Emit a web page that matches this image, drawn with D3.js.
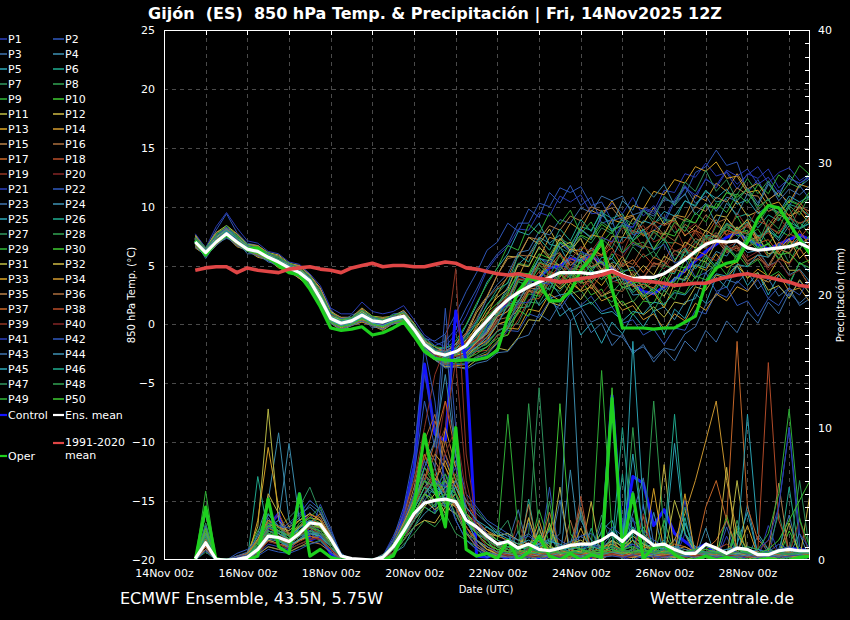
<!DOCTYPE html>
<html><head><meta charset="utf-8">
<script src="https://cdn.jsdelivr.net/npm/d3@7"></script>
<style>html,body{margin:0;padding:0;background:#000;}svg{display:block;font-family:"DejaVu Sans",sans-serif;}</style>
</head><body><svg id="c" width="850" height="620"></svg>
<script>
// ---------- DATA (6-hourly from 14Nov2025 18z to 29Nov2025 12z) ----------
const titleText = "Gijón  (ES)  850 hPa Temp. & Precipitación | Fri, 14Nov2025 12Z";
const firstTime = Date.UTC(2025,10,14,18);
const stepHours = 6;
const tempTicks = [-20,-15,-10,-5,0,5,10,15,20,25];
const precipTicks = [0,10,20,30,40];
const xTickLabels = ["14Nov 00z","16Nov 00z","18Nov 00z","20Nov 00z","22Nov 00z","24Nov 00z","26Nov 00z","28Nov 00z"];

const ensMeanT = [7.0,6.1,7.0,7.7,7.0,6.4,6.2,5.7,5.3,4.8, 4.4,3.7,2.2,0.5,0.1,0.3,0.8,0.3,0.2,0.5, 0.7,-0.4,-1.7,-2.4,-2.6,-2.3,-1.8,-0.6,0.3,1.3, 2.1,2.7,3.2,3.6,4.0,4.4,4.4,4.4,4.3,4.5, 4.6,4.2,3.9,4.0,4.0,4.3,4.9,5.5,6.2,6.8, 7.1,7.0,7.1,6.5,6.3,6.4,6.5,6.6,6.9,6.5];
const ensMeanP = [0.1,1.3,0.05,0,0.05,0.2,0.8,1.8,1.7,1.4, 2.0,2.8,2.7,1.6,0.3,0.1,0.05,0,0.2,1.0, 2.2,3.5,4.3,4.5,4.6,4.4,3.0,2.5,1.8,1.2, 1.4,0.9,1.2,0.8,0.7,0.9,1.1,1.2,1.2,1.5, 2.0,1.4,2.2,1.7,1.1,1.2,0.8,0.5,0.5,1.2, 0.9,0.5,0.9,0.8,0.4,0.4,0.7,0.8,0.7,0.7];
const operT = [7.1,5.9,7.0,7.6,7.0,6.4,6.5,5.7,5.0,4.4, 4.2,3.0,1.5,-0.3,-0.5,-0.4,-0.2,-0.9,-0.7,-0.3, 0.2,-1.0,-2.3,-2.9,-3.0,-3.1,-3.0,-3.0,-2.8,-2.2, 0.6,2.8,4.0,3.6,2.0,2.0,2.8,4.6,5.6,7.1, 3.0,-0.3,-0.3,-0.3,-0.4,-0.3,-0.3,0.2,0.7,3.5, 4.8,5.2,5.4,7.0,9.0,10.1,9.9,8.6,7.2,6.0];
const operP = [0,4.0,0,0,0,0,0.3,4.6,1.0,0.5, 5.0,0.3,0.8,0.2,0,0,0,0,0,0.3, 2.0,4.0,9.5,5.5,2.5,10.0,0.8,0.3,0.5,0.1, 1.5,0,0.6,1.8,0.3,0,0.5,0,0.4,0.2, 12.2,0.8,5.0,0.1,1.0,1.2,0.4,0,0,0.3, 0,0.2,0,0,0,0.1,0,0,0.2,0.3];
const controlT = [7.1,6.0,7.2,7.8,7.1,6.5,6.3,5.7,5.3,4.9, 4.3,3.7,2.2,0.4,0.1,0.3,0.8,0.2,0.1,0.5, 0.6,-0.5,-1.8,-2.5,-2.8,-2.6,-2.2,-1.5,-0.5,0.8, 2.0,2.8,3.6,4.0,4.8,5.0,5.6,5.4,5.8,5.2, 4.8,4.0,3.4,2.8,2.6,3.2,3.8,4.6,5.4,6.2, 6.8,7.4,7.8,7.2,6.8,6.4,6.8,7.2,7.6,7.2];
const controlP = [0,1.5,0,0,0,0,0.3,2.5,3.5,0.5, 5.0,1.5,1.8,0.5,0,0,0,0,0,1.0, 3.5,7.0,14.8,9.5,9.0,18.8,15.0,0.3,0.2,0.5, 0,0.2,0.4,0.1,0.3,0.5,0.2,0.3,0.1,0.5, 12.4,1.5,6.3,5.8,2.6,3.8,2.0,1.4,0.8,1.2, 0.5,0.3,0.2,0.3,0.2,0.5,0.6,0.9,0.8,0.7];
const climT = [4.6,4.8,4.9,4.9,4.4,4.8,4.6,4.5,4.4,4.7, 4.8,4.9,4.7,4.6,4.4,4.8,5.0,5.2,4.9,5.0, 5.0,4.9,4.9,5.1,5.3,5.2,4.8,4.7,4.5,4.3, 4.2,4.3,4.1,3.9,3.8,3.6,3.7,3.9,4.0,4.2, 4.5,4.1,3.8,3.7,3.6,3.5,3.3,3.4,3.5,3.5, 3.8,4.0,4.2,4.3,4.1,4.0,3.8,3.6,3.3,3.2];

const t1=[6.8,5.9,7.6,8.3,7.1,6.7,5.9,6.0,5.0,4.7, 4.1,3.0,1.4,0.3,-0.5,0.2,0.5,0.0,-0.3,0.6, 0.4,-0.9,-2.3,-3.0,-3.4,-2.9,-2.9,-1.7,-0.2,1.5, 2.9,4.1,3.8,5.6,5.2,6.9,6.3,8.0,7.4,9.1, 10.3,9.4,10.8,9.2,10.1,8.9,10.6,11.8,10.7,12.4, 11.6,13.0,11.9,12.7,13.4,12.0,12.9,13.3,12.2,12.8];
const t2=[7.3,6.4,8.0,9.4,7.8,6.9,6.7,6.0,5.8,5.0, 5.0,4.2,3.0,1.3,0.2,0.8,1.1,0.4,0.3,0.9, 1.0,0.1,-1.2,-1.4,-0.8,0.9,2.8,4.4,6.3,7.0, 8.6,7.9,9.8,9.1,11.2,10.3,11.8,10.1,10.8,8.6, 8.9,6.0,6.9,6.4,8.0,8.6,10.4,11.0,12.9,13.4, 14.8,13.5,13.8,11.2,12.3,10.5,11.4,10.0,11.8,10.6];
const t3=[7.0,5.6,6.9,7.3,7.1,6.0,6.0,5.3,5.1,4.4, 4.3,3.4,2.1,0.2,0.1,0.0,0.6,-0.3,-0.1,0.0, 0.5,-0.8,-1.8,-3.0,-2.9,-3.2,-2.4,-2.0,-0.6,0.3, 1.2,2.4,2.8,3.1,2.2,2.5,1.1,1.5,0.2,0.6, -0.8,-1.1,-2.3,-1.9,-2.9,-2.0,-2.2,-0.8,-0.2,1.7, 2.4,3.8,3.5,4.5,3.0,3.9,2.4,3.1,1.6,2.2];
const t4=[7.4,6.3,7.3,8.1,7.2,6.8,6.2,5.9,5.4,5.2, 4.5,4.0,2.7,0.6,0.5,0.4,1.2,0.4,0.5,0.5, 1.1,-0.3,-1.3,-2.4,-2.4,-2.6,-1.8,-1.4,0.2,1.6, 3.2,5.1,5.9,7.4,6.9,7.6,6.2,6.4,4.8,5.3, 3.6,3.9,2.5,2.6,1.1,1.5,0.4,1.9,2.2,4.4, 5.1,7.0,7.2,8.5,7.3,8.1,7.1,8.4,8.1,8.6];
const t5=[6.8,6.3,7.0,8.0,7.0,6.6,6.2,5.8,5.3,5.0, 4.4,3.9,2.2,0.7,0.1,0.5,0.8,0.5,0.1,0.6, 0.6,-0.6,-1.6,-2.6,-2.6,-2.5,-1.7,-0.8,0.6,0.9, 2.3,1.4,3.1,1.6,2.6,0.7,1.4,-0.9,0.1,-1.6, 0.2,-0.8,0.9,-0.2,1.2,-0.9,1.3,0.5,2.6,1.8, 4.0,3.1,5.0,3.3,4.4,2.5,4.2,3.3,5.3,4.4];
const t6=[7.2,5.9,7.1,7.5,7.1,6.4,6.2,5.5,5.3,4.6, 4.4,3.4,2.3,0.3,0.1,0.1,0.8,0.1,0.1,0.2, 0.7,-0.6,-1.8,-2.8,-2.8,-2.9,-2.0,-1.6,-0.1,0.8, 2.2,4.1,4.2,5.6,5.4,7.0,6.6,8.3,8.0,9.5, 9.0,9.4,7.8,8.0,7.2,8.9,8.8,10.5,10.1,11.4, 10.4,10.6,9.1,9.4,8.2,9.3,8.8,10.2,9.9,9.2];
const t7=[6.6,6.0,6.8,7.6,6.7,6.4,5.9,5.6,5.0,4.8, 4.2,3.5,1.6,0.3,-0.3,0.1,0.3,0.1,-0.3,0.3, 0.3,-0.6,-2.2,-2.8,-3.4,-3.3,-3.3,-2.7,-2.3,-1.4, -0.2,0.1,1.9,1.8,3.3,2.8,4.0,3.5,4.6,3.8, 5.3,5.0,6.6,5.7,6.2,5.0,6.3,5.8,7.0,6.5, 7.8,6.9,8.2,6.5,7.6,5.8,6.9,5.2,7.0,6.2];
const t8=[7.5,6.4,7.7,8.1,7.6,6.6,6.6,5.8,5.7,5.0, 4.9,3.9,2.8,0.7,0.4,0.4,1.2,0.3,0.4,0.5, 0.9,-0.3,-1.3,-2.2,-2.3,-2.1,-1.0,0.0,1.7,2.6, 3.6,5.2,5.0,6.5,5.9,7.3,6.8,8.1,7.4,8.7, 8.1,8.4,6.7,7.0,5.6,7.0,6.9,8.8,8.6,10.1, 9.8,11.2,11.0,12.4,11.1,12.2,10.8,12.0,11.6,12.9];
const t9=[6.9,6.2,7.0,7.9,7.0,6.5,6.1,5.9,5.2,5.0, 4.3,3.8,2.2,0.6,0.0,0.3,0.7,0.4,0.0,0.5, 0.5,-0.5,-2.1,-2.6,-3.1,-2.7,-2.6,-1.7,-1.1,0.2, 1.6,1.7,3.0,2.6,4.0,3.4,4.7,3.6,5.3,4.5, 6.0,4.6,4.6,3.1,4.0,3.4,5.0,4.8,6.5,6.6, 8.4,7.9,9.2,7.6,8.1,6.8,8.0,7.5,8.7,7.6];
const t10=[7.3,6.2,7.4,7.8,7.3,6.4,6.5,5.7,5.5,4.9, 4.6,3.7,2.5,0.5,0.3,0.3,1.0,0.3,0.3,0.4, 0.9,-0.4,-1.5,-2.4,-2.5,-2.5,-1.6,-0.7,1.0,1.8, 2.8,4.4,4.1,5.6,4.2,4.5,3.0,3.8,2.5,3.0, 1.5,2.0,0.8,2.0,1.8,3.5,3.6,5.5,5.6,7.3, 7.0,8.5,7.7,8.0,6.5,6.8,5.5,7.0,6.4,7.6];
const t11=[6.7,6.1,7.1,8.2,7.2,6.7,6.1,5.7,5.1,4.7, 4.0,3.4,1.8,0.4,-0.1,0.3,0.5,0.2,-0.2,0.4, 0.4,-0.5,-2.0,-2.5,-3.0,-2.6,-2.4,-1.5,-0.6,1.0, 2.5,2.6,4.3,4.0,5.6,5.0,6.4,5.7,6.0,4.6, 5.0,3.4,3.7,2.4,3.1,2.4,4.0,3.8,5.6,5.3, 7.0,6.8,8.3,7.0,7.5,6.0,6.2,4.6,4.6,3.2];
const t12=[7.6,6.5,7.8,8.4,7.7,6.8,6.7,6.1,5.9,5.2, 5.0,4.2,3.1,1.1,0.6,0.6,1.4,0.7,0.6,0.7, 1.2,0.1,-1.4,-1.9,-2.3,-1.7,-0.9,1.0,2.3,4.2, 5.8,5.7,7.4,6.8,8.1,6.5,7.0,5.6,6.3,5.9, 7.5,7.4,9.0,8.6,9.9,8.5,9.0,7.5,8.4,7.9, 9.3,9.1,10.5,9.2,9.6,8.1,9.3,8.9,10.1,8.8];
const t13=[6.5,5.9,6.7,7.5,6.6,6.3,5.7,5.5,4.8,4.5, 3.9,3.2,1.5,0.1,-0.5,-0.1,0.2,-0.1,-0.5,0.1, 0.1,-0.8,-2.4,-3.0,-3.6,-3.5,-3.4,-2.8,-2.5,-1.5, -0.3,-0.4,1.3,1.1,2.6,2.0,3.5,2.9,4.1,3.3, 4.5,3.1,3.4,2.1,2.7,1.4,3.5,3.3,5.0,4.6, 6.0,4.8,5.3,3.9,4.7,4.1,5.6,5.2,6.5,5.1];
const t14=[7.0,6.3,7.1,8.1,7.1,6.6,6.2,5.9,5.3,5.0, 4.4,4.0,2.4,0.8,0.1,0.5,0.9,0.6,0.1,0.6, 0.7,-0.2,-1.7,-2.2,-2.6,-2.0,-1.6,-0.1,0.8,2.6, 4.1,4.0,5.9,5.6,7.4,7.1,8.6,8.0,9.7,9.2, 10.5,9.0,9.3,7.5,8.0,7.6,9.3,9.1,11.0,10.5, 12.0,11.3,12.8,11.5,12.0,10.6,11.2,10.3,11.9,11.6];
const t15=[6.8,6.2,6.8,7.7,6.8,6.4,6.0,5.7,5.1,4.9, 4.2,3.7,2.0,0.5,-0.1,0.3,0.6,0.3,-0.1,0.4, 0.4,-0.5,-2.1,-2.7,-3.2,-2.9,-2.7,-1.9,-1.3,0.0, 0.3,1.6,3.1,3.0,4.5,4.0,5.3,4.8,6.0,4.7, 5.2,3.8,4.3,3.0,3.7,3.1,4.7,4.4,6.3,5.9, 7.2,6.1,6.5,5.1,5.6,5.0,6.5,6.0,7.3,5.8];
const t16=[7.4,6.3,7.5,8.1,7.5,6.7,6.6,5.9,5.7,5.0, 4.8,3.9,2.8,0.8,0.5,0.5,1.2,0.4,0.4,0.6, 1.0,-0.2,-1.3,-2.2,-2.2,-1.9,-0.8,0.5,2.2,3.1, 4.0,5.9,5.8,7.1,5.7,6.1,4.6,5.0,3.7,4.5, 3.9,5.5,5.1,6.7,6.4,7.7,7.1,8.5,7.9,9.3, 8.6,9.0,7.8,8.4,7.0,8.3,7.7,9.1,8.6,8.9];
const t17=[6.7,6.0,6.9,7.8,6.9,6.4,5.9,5.7,5.1,4.8, 4.1,3.6,1.9,0.4,-0.2,0.2,0.5,0.2,-0.2,0.3, 0.3,-0.6,-2.1,-2.7,-3.3,-2.9,-2.8,-2.1,-1.6,-0.5, -0.2,0.9,2.8,2.6,4.5,4.1,5.6,5.2,6.5,5.9, 6.5,4.9,5.5,4.4,5.7,5.3,7.0,6.6,8.0,7.5, 8.9,7.6,8.0,6.6,7.0,5.7,7.0,6.5,8.0,6.6];
const t18=[7.1,6.1,7.1,7.7,7.1,6.3,6.3,5.6,5.4,4.7, 4.5,3.6,2.3,0.4,0.2,0.2,0.9,0.2,0.2,0.3, 0.8,-0.5,-1.6,-2.5,-2.5,-2.3,-1.5,-0.9,0.4,1.1, 1.9,3.0,3.3,4.5,3.9,5.1,3.8,4.2,3.0,4.3, 3.8,5.2,4.8,6.0,5.0,5.4,4.4,6.4,6.1,7.5, 7.1,8.5,8.1,8.9,7.3,7.8,6.5,7.7,7.3,8.4];
const t19=[7.3,6.2,7.3,7.8,7.3,6.4,6.4,5.7,5.5,4.9, 4.6,3.7,2.5,0.5,0.3,0.3,1.0,0.3,0.3,0.4, 0.9,-0.4,-1.5,-2.5,-2.6,-2.6,-1.8,-1.2,0.2,0.8, 2.7,1.9,3.8,2.7,4.6,3.5,5.4,4.3,6.1,5.1, 7.0,6.0,8.0,6.5,8.5,7.2,8.4,6.5,7.8,6.6, 8.6,7.5,9.5,8.2,9.9,8.0,9.1,8.0,9.9,8.9];
const t20=[6.8,6.1,6.8,7.7,6.8,6.4,5.9,5.6,5.0,4.7, 4.1,3.6,1.8,0.4,-0.2,0.2,0.5,0.2,-0.2,0.4, 0.4,-0.5,-2.0,-2.6,-3.1,-2.7,-2.6,-1.6,-1.0,0.5, 1.8,1.9,3.5,3.2,4.4,3.8,4.3,3.2,3.6,2.6, 3.7,3.4,4.5,4.0,5.3,4.7,6.0,5.5,6.9,6.4, 7.4,6.2,6.6,5.3,5.9,4.6,5.6,5.1,6.4,5.2];
const t21=[7.7,6.5,8.3,9.5,8.2,7.1,6.9,6.2,6.0,5.3, 5.1,4.3,3.3,1.4,0.9,0.9,1.9,1.1,0.9,1.1, 1.6,0.4,-0.9,-1.5,-1.9,-0.8,0.7,2.6,4.6,5.8, 6.6,8.1,8.0,9.5,9.2,10.9,10.4,11.0,9.4,9.5, 8.0,8.4,8.3,9.9,9.6,11.4,11.2,12.8,12.5,13.7, 12.6,12.9,11.5,12.8,12.4,13.2,11.6,12.4,12.0,12.6];
const t22=[6.6,5.9,6.7,7.5,6.7,6.3,5.8,5.5,4.9,4.6, 4.0,3.4,1.7,0.2,-0.4,0.0,0.3,0.0,-0.4,0.2, 0.2,-0.7,-2.3,-2.9,-3.5,-3.4,-3.4,-2.8,-2.6,-1.6, -0.5,-0.6,0.9,0.6,2.0,1.3,2.6,1.6,2.4,1.1, 1.5,0.1,0.4,-0.9,-0.4,-1.7,-0.3,-0.5,1.2,0.9, 2.7,2.3,3.7,2.9,3.8,2.2,3.2,2.4,3.7,2.6];
const t23=[7.2,6.2,7.5,8.0,7.3,6.4,6.4,5.7,5.5,4.9, 4.6,3.8,2.7,0.7,0.4,0.4,1.1,0.4,0.4,0.5, 1.0,-0.3,-1.4,-2.3,-2.3,-2.1,-0.9,0.3,2.2,3.4, 4.3,6.1,6.3,7.9,7.6,8.9,8.6,9.9,9.5,10.9, 10.5,10.9,9.3,9.6,9.2,10.6,10.4,11.7,10.3,10.9, 9.6,10.8,10.5,11.6,10.3,12.1,10.5,11.5,11.0,11.8];
const t24=[6.8,6.2,6.9,7.8,6.9,6.5,6.0,5.7,5.1,4.9, 4.2,3.7,2.0,0.5,-0.1,0.3,0.6,0.3,-0.1,0.5, 0.5,-0.6,-2.0,-2.6,-3.0,-2.6,-2.5,-1.5,-0.7,0.8, 2.2,2.4,4.1,3.8,5.0,4.6,5.9,5.4,6.5,5.2, 5.6,4.4,4.9,3.6,4.0,2.8,4.0,3.7,5.1,4.8, 6.2,5.8,7.1,6.1,6.3,5.0,5.4,4.2,4.7,3.6];
const t25=[7.3,6.1,7.3,8.2,7.4,6.5,6.4,5.8,5.5,4.9, 4.7,3.8,2.5,0.6,0.4,0.4,1.0,0.3,0.3,0.4, 0.9,-0.3,-1.3,-2.1,-2.0,-1.7,-0.1,1.6,3.6,4.8, 6.0,7.9,7.6,8.6,6.8,6.6,5.0,5.6,4.4,5.7, 5.6,7.4,7.3,8.8,8.5,9.6,9.2,10.5,10.0,11.3, 10.7,11.5,10.2,10.6,9.4,10.1,9.5,10.9,10.4,10.9];
const t26=[6.7,6.0,6.8,7.7,6.8,6.4,5.9,5.6,5.0,4.8, 4.1,3.5,1.8,0.3,-0.3,0.1,0.4,0.1,-0.3,0.3, 0.3,-0.6,-2.2,-2.8,-3.3,-3.0,-2.9,-2.3,-1.9,-0.9, -0.4,1.4,1.5,3.3,3.0,4.4,4.0,5.5,4.9,5.4, 3.9,4.2,2.7,3.5,2.9,4.5,4.3,6.2,5.9,7.6, 7.4,8.6,8.1,8.7,7.5,7.9,7.4,8.7,8.2,8.6];
const t27=[7.1,6.0,7.2,7.7,7.2,6.3,6.3,5.6,5.4,4.7, 4.5,3.6,2.3,0.4,0.2,0.2,0.9,0.2,0.2,0.3, 0.8,-0.5,-1.6,-2.6,-2.7,-2.7,-1.9,-1.4,0.0,0.9, 1.7,3.6,3.4,5.3,5.0,6.5,6.0,7.5,6.9,8.2, 7.7,9.1,8.5,9.8,8.6,9.1,7.8,8.3,7.0,7.5, 7.1,8.3,7.8,9.0,8.5,9.9,9.4,10.6,10.2,10.7];
const t28=[7.4,6.3,7.5,8.0,7.4,6.6,6.5,5.8,5.6,5.0, 4.7,3.9,2.7,0.7,0.4,0.4,1.1,0.4,0.4,0.5, 0.9,-0.4,-1.5,-2.4,-2.5,-2.5,-1.7,-1.1,0.4,1.3, 2.1,3.8,3.6,4.8,3.5,3.9,2.6,2.9,1.7,2.5, 1.9,3.2,2.9,4.0,3.7,5.0,4.7,6.3,5.9,7.4, 7.1,8.5,7.5,7.8,6.4,6.9,5.6,6.8,6.4,7.6];
const t29=[6.8,6.1,6.9,7.6,6.9,6.4,5.9,5.7,5.1,4.8, 4.2,3.6,1.9,0.4,-0.2,0.2,0.5,0.2,-0.2,0.3, 0.4,-0.6,-2.0,-2.6,-3.1,-2.9,-2.8,-2.0,-1.7,-0.6, -0.1,1.0,2.6,2.4,3.7,3.1,4.3,3.5,4.7,3.8, 4.5,3.1,3.5,2.3,2.9,1.6,2.9,2.6,4.1,3.8, 5.3,4.2,6.0,4.9,5.5,4.0,4.5,3.5,5.2,4.8];
const t30=[7.2,6.2,7.3,7.8,7.3,6.4,6.4,5.7,5.5,4.8, 4.6,3.7,2.4,0.5,0.3,0.3,1.0,0.3,0.3,0.4, 0.8,-0.5,-1.6,-2.4,-2.6,-2.3,-1.6,-0.9,0.6,1.6, 2.6,4.4,4.3,6.0,5.6,7.0,6.5,7.6,7.2,8.5, 7.9,8.5,7.1,7.8,6.4,7.8,7.5,9.0,8.6,10.2, 9.9,11.2,10.8,11.5,10.0,10.6,9.2,10.5,10.1,11.3];
const t31=[6.6,5.8,6.7,7.6,6.7,6.3,5.8,5.5,4.9,4.6, 3.9,3.3,1.6,0.2,-0.4,0.0,0.3,0.0,-0.4,0.2, 0.1,-0.8,-2.3,-3.0,-3.6,-3.6,-3.7,-3.0,-2.9,-2.0, -2.2,-1.1,0.4,0.3,1.9,1.6,3.0,2.1,3.4,2.4, 2.8,1.6,2.0,0.8,1.5,0.6,1.9,1.7,3.2,2.9, 4.2,3.9,5.0,4.0,4.4,2.9,3.3,2.2,3.8,2.6];
const t32=[7.3,6.3,7.4,8.0,7.3,6.7,6.4,6.0,5.4,5.1, 4.7,3.9,2.6,0.7,0.4,0.4,1.1,0.5,0.4,0.5, 1.0,-0.3,-1.4,-2.3,-2.4,-2.3,-1.3,-0.3,1.3,2.3, 3.0,5.1,4.9,6.6,5.6,7.3,6.3,7.3,5.5,6.7, 4.6,5.8,4.0,5.0,4.2,5.8,5.3,7.0,6.5,8.0, 7.4,9.0,8.0,8.9,7.1,8.1,6.3,7.3,5.6,6.5];
const t33=[7.0,6.1,7.1,7.8,7.0,6.5,6.1,5.8,5.3,4.9, 4.3,3.8,2.1,0.6,0.0,0.4,0.7,0.4,0.0,0.5, 0.5,-0.5,-1.9,-2.5,-3.0,-2.6,-2.5,-1.5,-0.8,0.7, 1.1,2.6,3.8,4.0,5.2,5.0,6.4,6.2,7.6,7.4, 8.9,8.6,10.1,9.8,11.3,11.0,12.3,12.0,13.4,13.0, 13.8,12.4,12.6,11.2,11.4,10.1,10.4,9.2,9.6,8.5];
const t34=[6.7,6.0,6.8,7.7,6.8,6.4,5.9,5.6,5.0,4.7, 4.1,3.5,1.8,0.3,-0.3,0.1,0.4,0.1,-0.3,0.3, 0.3,-0.6,-2.1,-2.7,-3.2,-2.9,-2.7,-1.9,-1.4,0.0, 0.3,1.3,2.9,2.7,4.0,3.0,3.9,2.8,3.2,2.0, 2.4,1.2,1.6,0.4,0.9,-0.4,0.9,0.3,1.8,1.2, 2.6,2.0,3.2,2.8,4.0,3.6,4.3,2.8,3.1,1.9];
const t35=[7.5,6.4,7.8,8.2,7.7,6.7,6.7,6.0,5.8,5.1, 5.0,4.1,3.0,1.0,0.6,0.6,1.3,0.6,0.5,0.7, 1.1,0.0,-1.4,-1.9,-2.4,-1.6,-0.7,1.2,2.4,4.2, 5.6,5.8,7.4,7.2,8.4,8.0,9.2,8.8,10.0,9.6, 9.9,8.8,9.2,8.0,8.6,7.6,9.2,8.8,10.0,9.6, 10.8,10.4,11.6,11.0,10.9,9.6,10.0,8.9,10.0,9.6];
const t36=[6.8,6.1,6.9,7.8,6.9,6.4,5.9,5.7,5.1,4.9, 4.2,3.7,2.0,0.5,-0.1,0.3,0.6,0.3,-0.1,0.4, 0.5,-0.5,-2.0,-2.6,-3.0,-2.7,-2.5,-1.7,-1.1,0.4, 0.6,1.9,3.4,3.2,4.4,3.4,4.5,3.5,3.7,2.4, 3.0,2.8,4.0,3.9,5.2,5.0,6.3,6.1,7.3,6.9, 7.6,6.3,6.7,5.4,5.9,4.8,6.4,6.1,7.4,6.3];
const t37=[7.2,6.1,7.2,7.7,7.2,6.4,6.3,5.7,5.4,4.8, 4.5,3.6,2.4,0.4,0.2,0.2,0.9,0.2,0.2,0.3, 0.8,-0.5,-1.6,-2.6,-2.6,-2.6,-1.8,-1.3,0.2,1.1, 2.0,3.8,3.9,5.2,4.9,6.0,5.0,5.9,4.9,5.3, 4.0,4.3,3.2,3.4,3.1,4.4,4.5,5.8,5.6,7.0, 6.9,8.0,7.7,8.6,6.9,7.2,6.0,7.1,6.9,7.3];
const t38=[6.7,6.0,6.7,7.6,6.7,6.3,5.8,5.6,4.9,4.7, 4.0,3.5,1.7,0.3,-0.4,0.1,0.3,0.1,-0.4,0.2, 0.2,-0.7,-2.2,-2.8,-3.4,-3.1,-3.1,-2.3,-2.2,-0.9, -0.9,0.4,2.1,2.2,3.6,3.5,4.8,4.6,6.0,5.8, 7.1,6.9,8.0,7.6,8.8,8.4,8.8,7.6,8.0,6.9, 7.2,6.8,8.0,7.7,8.8,8.4,9.6,9.3,10.4,9.2];
const t39=[7.3,6.2,7.3,7.8,7.3,6.5,6.4,5.8,5.5,4.9, 4.6,3.7,2.5,0.5,0.3,0.3,1.0,0.3,0.3,0.4, 0.9,-0.4,-1.5,-2.4,-2.4,-2.3,-1.4,-0.7,0.8,1.6, 2.4,3.9,3.7,5.0,4.7,5.8,5.5,6.6,6.2,7.4, 7.0,8.2,7.9,8.4,7.0,7.4,6.2,6.6,5.4,5.9, 5.4,6.7,6.2,7.5,7.0,8.3,7.8,9.0,8.6,9.0];
const t40=[6.9,6.1,7.0,7.8,7.0,6.4,6.1,5.8,5.2,4.9, 4.3,3.7,2.1,0.5,0.0,0.3,0.7,0.3,0.0,0.4, 0.6,-0.5,-1.9,-2.6,-3.0,-2.7,-2.5,-1.7,-1.1,0.2, 1.5,1.5,3.0,2.5,3.8,3.2,4.6,4.1,5.4,4.4, 6.2,5.7,7.0,6.5,7.8,7.2,8.6,7.9,8.6,7.2, 7.8,6.5,7.0,5.7,6.2,4.9,5.4,4.1,4.6,3.3];
const t41=[7.0,6.0,7.3,8.0,7.2,6.5,6.2,5.8,5.3,4.8, 4.4,3.7,2.2,0.5,0.0,0.3,0.7,0.2,0.0,0.3, 0.6,-0.6,-1.9,-2.7,-3.1,-3.0,-2.7,-2.2,-1.4,-0.6, -0.1,1.8,1.9,3.6,3.4,5.1,4.6,6.2,5.8,7.4, 7.0,8.6,8.2,9.8,9.4,10.8,10.2,11.6,11.0,12.3, 11.8,13.1,12.6,13.2,11.9,12.5,11.2,12.4,12.0,12.5];
const t42=[7.3,6.4,7.5,8.2,7.5,6.7,6.5,6.0,5.7,5.1, 4.8,4.0,2.8,0.9,0.5,0.6,1.2,0.6,0.4,0.7, 1.1,0.0,-1.1,-1.8,-1.4,-0.4,1.4,3.0,4.8,6.0, 6.8,8.6,8.6,10.3,10.0,11.6,11.2,11.7,10.1,10.4, 8.8,9.1,7.6,7.9,6.3,6.8,5.2,5.6,4.0,4.4, 2.8,3.2,1.6,2.0,0.7,2.2,1.6,3.1,2.5,3.9];
const t43=[6.6,5.8,6.7,7.4,6.7,6.2,5.8,5.4,4.9,4.5, 4.0,3.3,1.7,0.1,-0.4,-0.1,0.3,-0.1,-0.4,0.1, 0.2,-0.8,-2.3,-3.0,-3.7,-3.6,-3.8,-3.3,-3.1,-2.4, -2.3,-1.2,-0.9,0.9,0.3,1.8,0.3,1.1,-0.7,0.1, -1.8,-0.8,-2.5,-1.7,-3.2,-2.1,-3.1,-1.4,-2.3,-0.5, -1.5,0.3,-0.7,1.1,0.1,1.9,0.9,2.7,1.8,2.6];
const t44=[7.1,6.2,7.1,7.9,7.1,6.5,6.2,5.8,5.4,4.9, 4.5,3.8,2.3,0.6,0.2,0.4,0.9,0.4,0.2,0.5, 0.7,-0.4,-1.7,-2.4,-2.7,-2.4,-1.9,-1.0,0.2,1.4, 2.0,4.2,3.7,5.7,4.9,6.9,6.1,8.1,7.3,9.3, 8.5,10.5,9.7,11.7,10.8,11.9,10.1,11.1,9.3,10.3, 8.5,10.3,9.3,11.1,10.1,11.9,10.9,12.7,11.7,12.4];
const t45=[6.9,6.0,6.9,7.6,6.9,6.3,6.1,5.6,5.2,4.7, 4.3,3.5,2.0,0.3,-0.1,0.1,0.6,0.1,-0.1,0.3, 0.5,-0.6,-2.0,-2.8,-3.1,-2.9,-2.5,-1.9,-1.1,0.0, 1.7,1.9,3.5,3.3,3.7,2.5,2.7,1.5,1.9,0.9, 1.1,0.3,1.1,0.9,1.9,1.7,2.7,2.5,3.5,3.3, 4.3,4.1,5.1,4.9,5.9,5.7,6.7,6.5,7.5,6.3];
const t46=[7.2,6.3,7.3,8.0,7.3,6.6,6.3,5.9,5.5,5.0, 4.6,3.9,2.5,0.7,0.3,0.5,1.0,0.5,0.3,0.6, 0.8,-0.2,-1.5,-2.2,-2.4,-2.0,-1.2,0.2,1.6,3.0, 3.5,5.9,5.3,7.3,6.3,8.1,7.1,8.9,7.9,9.7, 7.9,8.9,7.1,8.1,6.3,7.3,5.5,6.5,4.7,5.9, 4.9,6.7,5.7,7.5,6.5,8.3,7.3,9.1,8.1,9.5];
const t47=[6.8,5.9,6.9,7.6,6.9,6.3,6.0,5.5,5.1,4.7, 4.2,3.4,1.9,0.2,-0.2,0.0,0.5,0.0,-0.2,0.2, 0.4,-0.7,-2.1,-2.9,-3.2,-3.0,-2.7,-2.2,-1.5,-0.6, -0.1,2.1,1.5,3.7,2.9,4.9,4.1,6.1,5.3,7.3, 6.5,8.5,7.7,9.7,8.9,10.9,10.1,12.1,11.3,13.1, 11.3,12.3,10.5,11.5,9.7,10.7,8.9,9.9,8.1,8.9];
const t48=[7.0,6.1,7.1,7.8,7.1,6.4,6.2,5.7,5.3,4.8, 4.4,3.7,2.2,0.5,0.1,0.3,0.8,0.3,0.1,0.4, 0.7,-0.4,-1.7,-2.5,-2.8,-2.6,-2.1,-1.4,-0.4,0.8, 1.5,3.7,3.1,5.1,4.1,5.9,4.3,5.3,3.5,4.5, 2.7,3.7,1.9,2.9,1.1,2.9,2.1,4.1,3.3,5.3, 4.5,6.5,5.7,7.7,6.9,8.9,8.1,10.1,9.3,11.1];
const t49=[7.4,6.5,7.6,8.4,7.5,6.8,6.5,6.1,5.7,5.2, 4.8,4.1,2.8,1.0,0.4,0.6,1.2,0.7,0.4,0.8, 1.0,0.0,-1.2,-1.9,-2.0,-1.4,0.0,1.8,3.4,4.8, 6.7,6.3,8.5,7.7,9.5,8.5,9.7,7.7,8.7,6.9, 7.9,6.1,7.1,6.5,7.9,7.1,8.7,7.9,9.5,8.7, 10.3,9.5,11.1,10.3,11.9,11.1,12.7,11.9,13.5,12.7];
const t50=[6.8,5.9,6.9,7.6,6.9,6.2,6.0,5.5,5.1,4.6, 4.2,3.4,1.9,0.2,-0.2,0.0,0.5,0.0,-0.2,0.2, 0.4,-0.7,-2.0,-2.8,-3.2,-3.1,-2.9,-2.5,-1.9,-1.2, -0.9,1.2,0.7,2.9,2.3,4.3,3.5,5.5,4.7,5.3, 4.3,4.5,3.5,3.7,2.7,4.1,3.1,4.9,3.9,5.7, 4.7,6.5,5.5,7.3,6.3,6.9,5.9,6.1,5.1,5.5];

const p1=[0,1.2,0,0,0,0.3,1.0,2.4,3.0,1.2, 2.5,3.6,2.0,1.0,0.2,0,0,0,0,0.6, 2.0,4.5,6.2,3.5,8.0,5.0,2.2,1.0,0.4,0.6, 0,0.5,2.8,0.2,0,1.2,0,3.5,0.4,0, 1.5,0,0.6,4.2,0.3,0,0,2.0,0,0.4, 0,1.8,0,0.3,0,2.6,0.5,0,0,0.8];
const p2=[0,0.8,0,0,0,0,0.5,1.5,2.2,1.5, 1.8,2.0,4.2,2.4,0.3,0,0,0,0.2,1.5, 3.0,6.5,12.0,8.5,19.0,10.0,3.5,1.2,0.5,0.2, 0.5,2.2,0,0.3,5.5,0,0.8,0.2,0,0.5, 1.0,0.2,3.2,0,0,0.5,1.6,0,0,0.3, 0,2.5,0.2,0.5,0,0,4.0,10.0,1.0,0.2];
const p3=[0.1,1.8,0,0,0.3,0.5,1.2,3.2,2.0,2.6, 3.4,4.0,3.2,1.8,0.4,0,0,0,0.3,0.8, 1.5,3.0,4.8,6.2,5.0,7.5,4.0,3.0,1.5,2.2, 1.2,3.8,0.5,1.5,0.6,4.5,0.8,1.2,0.4,2.8, 2.2,1.0,3.5,6.2,1.2,0.6,0.4,2.8,0.8,0.2, 0.4,3.0,0.6,0.3,1.8,0.5,0.8,3.4,0.2,0.3];
const p4=[0,2.2,0,0,0,0.2,2.0,4.5,9.6,3.0, 2.0,2.5,1.5,0.8,0,0,0,0,0.2,0.5, 1.0,2.5,3.5,4.2,6.0,3.0,1.5,0.8,0.2,0.5, 0.3,0,0.2,2.5,0,0,6.8,0.2,0.4,0.2, 0.5,0.3,0.8,0,3.6,0.4,0,0,0.2,2.4, 0,0.2,0,4.2,0.4,0,0,0.3,2.0,0];
const p5=[0,1.5,0,0,0.2,0,0.6,2.0,1.8,1.2, 1.5,2.2,2.8,1.6,0.2,0,0,0,0.3,1.2, 2.5,3.5,5.0,7.0,4.0,3.5,2.8,2.0,2.5,1.8, 2.0,0.4,3.1,0.8,2.4,0.5,1.2,4.0,0.5,2.2, 3.0,0.8,16.5,4.0,0.6,1.5,0,2.8,0.5,0.6, 0.8,0,1.2,3.6,0.4,0,0.6,0.8,0,0.4];
const p6=[0,0.8,0,0,0,0,6.3,2.0,1.5,0.8, 1.2,1.5,2.0,1.0,0.2,0,0,0,0,0.5, 1.5,3.0,4.0,3.5,4.5,5.0,3.0,2.0,1.5,0.5, 0.2,0,4.6,0.3,0,0.6,0,0,2.4,0.3, 0.5,6.5,0,0.8,1.2,0.3,0,3.2,0,0.5, 0.3,0,2.2,0,0,0.4,0,5.5,0.3,0];
const p7=[0,2.8,0,0,0,0.4,1.8,3.5,2.4,3.2, 4.0,5.5,3.5,2.0,0.5,0,0,0,0.4,1.0, 2.2,4.0,6.5,5.0,3.5,6.0,4.5,3.8,2.8,2.0, 3.0,0.5,2.0,13.0,2.2,0.2,0.8,3.5,0.2,0.6, 1.8,0,2.5,1.5,0,0.6,0.4,4.0,0.5,0, 0.5,0,2.6,0.4,0,0.8,3.5,0.3,0,0.4];
const p8=[0,1.0,0,0,0,0,0.5,1.5,1.2,0.8, 1.5,2.0,1.8,0.8,0,0,0,0,0,0.4, 1.2,2.0,3.0,2.5,3.5,2.0,1.5,1.0,0.5,0.3, 0.5,0.2,0.8,0.3,4.4,0,0.2,0.5,0,0.8, 1.2,0.6,2.0,1.0,12.0,2.0,0.6,0.3,0.2,0.5, 0.4,0,3.0,0.3,0,0.2,0.4,0.2,0,0.3];
const p9=[0.1,4.0,0.2,0,0,0.5,2.2,3.0,2.0,1.6, 2.8,3.2,4.0,1.8,0.3,0,0,0,0.2,1.0, 2.0,4.8,7.0,5.5,4.2,9.0,3.5,2.0,1.2,0.8, 1.0,0.6,0.4,3.8,1.2,0.5,0.3,0.6,0.8,14.3, 2.0,0.8,1.5,0,0.4,3.0,0.5,0,0.2,0.6, 0.3,0,2.4,0.6,0.3,0,0.5,0.4,3.2,0.2];
const p10=[0,2.0,0,0,0,0.2,1.0,2.0,1.5,1.2, 2.0,2.5,2.5,1.2,0.2,0,0,0,0,0.6, 1.8,3.0,5.0,4.0,6.5,4.0,2.5,1.5,0.8,0.6, 0.8,0.4,0,0.3,2.5,0.8,0.4,0,1.0,2.0, 13.0,1.5,0.8,2.5,1.0,0,0.3,0.2,0.4,0, 0.2,3.4,0.3,0,0.5,0.3,0.2,2.2,0.6,0.8];
const p11=[0,3.5,0,0,0,0.5,2.5,11.4,3.0,2.0, 1.5,2.0,1.8,1.0,0,0,0,0,0.2,0.8, 2.0,3.5,5.0,4.5,5.5,6.0,3.5,2.0,1.0,0.5, 0.2,0.5,0.3,0,0.6,5.5,0,0.4,0.8,0.3, 0.5,0.8,1.5,0.6,0.3,0.2,4.5,2.0,0.5,0.3, 0.2,0,6.0,0.5,0.2,0,0.3,2.8,0.4,0.2];
const p12=[0,1.5,0,0,0,0,0.8,5.0,3.5,1.8, 2.2,2.8,2.5,1.2,0.3,0,0,0,0,0.5, 1.5,2.5,3.0,2.8,4.0,3.5,2.0,1.5,0.8,0.4, 0.5,0.2,0,2.4,0.3,0,0.2,0.5,4.4,0, 0.6,0.3,0.5,0.2,0,7.2,0.2,0,0.3,0.2, 0,0.3,0.2,0,0.4,0.2,0,0.3,0,5.0];
const p13=[0,2.5,0,0,0,0,3.0,8.5,4.0,2.5, 3.0,3.5,3.0,1.5,0.2,0,0,0,0.3,0.9, 2.5,5.0,8.0,6.0,7.5,5.5,4.0,3.0,2.0,1.5, 1.0,0.2,3.2,0.6,0.8,0,0.5,2.4,0.6,0, 1.5,0.6,0.8,0.5,5.4,0.6,0.8,0.4,0.3,0.5, 0.4,0.3,0.5,2.6,0.3,0.4,0,0.5,0.3,0.4];
const p14=[0,1.8,0,0,0.2,0.4,1.2,2.5,2.0,1.5, 2.0,2.8,3.5,2.0,0.3,0,0,0,0.2,1.2, 2.5,4.0,6.0,5.0,10.0,7.0,3.5,2.5,1.5,1.0, 0.6,0,0.8,3.0,0.4,0,0.8,0.5,0,0.6, 1.0,0.5,0.8,0.6,0.4,0.8,1.5,3.5,6.0,9.0, 12.0,6.0,2.0,0.8,0.5,0.3,0.4,0.6,0.3,0.2];
const p15=[0,1.2,0,0,0,0,0.8,2.0,1.6,1.2, 1.8,2.2,2.0,1.2,0.2,0,0,0,0,0.8, 2.0,4.0,5.5,6.5,5.0,4.5,3.5,2.5,1.8,1.2, 0.8,0.5,4.2,0.4,0,0.5,0.8,0.6,0,0.3, 0.6,0.4,0.5,3.3,0.2,0,0.6,0.5,0.3,0.2, 0.3,0.5,0.4,0.2,0.3,0.6,5.8,0.3,0.2,0.3];
const p16=[0,0.8,0,0,0,0,0.4,1.5,2.0,1.0, 1.5,2.0,1.5,0.8,0,0,0,0,0.2,1.5, 3.5,6.0,9.0,11.0,7.0,5.0,2.5,1.2,0.6,0.4, 0.3,0.2,0.4,0.6,0.2,0,3.0,0.5,0.2,0.3, 0.6,0.4,0.2,0.3,0.5,0.2,0.4,0.3,0.2,0.5, 0.3,0.2,0.4,0.3,0.2,0.5,0.3,0.2,0.3,0.4];
const p17=[0,2.0,0,0,0,0.3,1.5,3.0,2.5,1.8, 2.5,3.0,2.8,1.5,0.3,0,0,0,0.3,1.0, 2.5,5.0,7.5,10.5,8.0,6.0,4.5,3.0,2.2,1.5, 1.0,0.8,1.2,0.5,3.6,0.8,0,0.6,0.4,0.5, 0.8,0.5,0.6,0.4,0.5,0.8,1.2,1.0,0.6,0.8, 1.5,3.0,16.5,4.0,1.5,0.8,0.5,0.4,0.3,0.5];
const p18=[0,1.0,0,0,0,0,0.6,1.8,1.5,1.0, 1.5,1.8,1.5,0.8,0.2,0,0,0,0.2,1.2, 2.5,4.5,8.0,6.0,5.0,4.0,2.5,1.5,0.8,0.6, 0.4,0.3,0.6,0.2,0.5,0.4,0.3,4.8,0.4,0.2, 0.5,0.3,0.4,0.6,0.3,0.2,0.4,0.5,0.3,0.2, 0.3,0.4,0.2,0.3,0.5,0.2,0.3,0.4,0.2,0.3];
const p19=[0,1.5,0,0,0,0.2,1.0,2.5,3.5,2.0, 2.0,2.5,2.2,1.0,0.2,0,0,0,0.2,1.0, 3.0,6.0,10.0,14.0,16.0,22.0,8.0,3.0,1.5,0.8, 0.5,0.4,0.6,0.3,0.4,0.5,0.3,0.4,0.2,0.3, 0.6,0.4,0.3,0.5,0.4,0.3,0.5,0.4,0.3,0.6, 0.4,0.3,0.5,0.4,0.6,1.5,0.5,0.3,0.4,0.3];
const p20=[0,1.2,0,0,0,0,0.5,1.6,1.2,0.8, 1.2,1.5,1.8,1.0,0.2,0,0,0,0,0.6, 1.5,3.0,5.0,7.0,12.0,9.0,4.0,2.0,1.0,0.5, 0.3,0.2,0.4,0.2,0.3,0.2,0.4,0.3,0.2,0.4, 0.5,0.3,0.2,0.4,0.3,0.5,0.2,0.3,0.4,0.2, 0.3,0.2,0.4,0.3,0.2,0.3,0.5,0.4,3.0,0.2];
const p21=[0,0.8,0,0,0,0,0.4,1.2,1.0,0.8, 1.5,2.0,1.5,0.8,0,0,0,0,0.3,1.8, 3.5,7.0,14.0,10.0,6.0,4.0,2.0,1.0,0.5,0.3, 0.2,0,0.3,0.2,0,0.4,0.2,0,0.3,0.2, 0.4,0.2,0,0.3,0.2,0,0.4,4.5,0.3,0, 0.2,0.3,0,0.2,0.4,0.2,0,0.3,0.2,0.4];
const p22=[0.2,2.5,0,0,0.5,0.8,1.5,3.0,2.2,2.8, 3.5,4.5,3.8,2.2,0.5,0,0,0,0.4,1.2, 2.5,4.0,5.0,6.0,5.5,8.0,5.0,4.0,3.0,2.5, 2.0,1.5,1.8,1.2,2.2,1.5,1.0,1.8,2.0,1.2, 2.5,1.8,3.0,2.2,1.5,1.0,0.8,0.6,1.0,0.5, 0.8,0.6,0.4,1.0,0.8,0.6,1.2,0.8,0.6,0.5];
const p23=[0,1.5,0,0,0,0,0.6,1.8,1.5,1.0, 1.5,2.0,2.0,1.0,0,0,0,0,0.2,1.0, 2.5,5.0,9.0,7.0,17.0,8.0,3.0,1.5,0.6,0.4, 0.3,0.2,0.4,0.2,0.5,0.3,0,0.4,0.2,0.3, 0.4,0.6,5.2,0.2,0.4,0.3,0.2,0.5,0.3,0.2, 0.3,0.2,0.4,0.3,0.2,0.5,0.3,0.2,0.4,0.3];
const p24=[0,2.0,0,0,0,0.3,1.2,2.5,3.0,8.8, 3.0,2.5,2.0,1.2,0.2,0,0,0,0.3,1.2, 2.8,4.5,6.5,5.5,5.0,4.0,3.0,2.0,1.5,1.0, 1.0,0.8,1.0,1.5,1.2,2.0,18.0,3.0,1.5,1.0, 1.5,1.0,1.2,0.8,0.6,0.5,0.8,0.6,0.4,0.5, 0.6,0.4,0.5,0.8,0.6,0.4,0.3,0.5,0.4,0.3];
const p25=[0,1.0,0,0,0,0,0.8,2.0,1.5,1.0, 1.5,2.0,1.8,1.0,0.2,0,0,0,0.2,0.8, 2.0,3.5,5.0,6.0,4.5,5.5,4.0,3.0,2.0,1.5, 1.2,1.0,0.8,1.2,1.5,1.0,0.8,1.2,1.0,1.5, 2.0,1.5,2.5,1.2,1.0,0.8,8.8,2.0,1.0,0.8, 0.6,0.8,1.0,11.0,2.0,0.8,0.6,0.5,0.4,0.6];
const p26=[0,3.5,0,0,0,0.2,1.5,3.5,2.5,2.0, 2.2,3.0,2.5,1.5,0.3,0,0,0,0.3,1.2, 2.5,4.0,6.0,5.0,6.0,4.5,3.5,2.5,1.5,1.0, 0.8,0.5,1.0,0.6,0.4,0.8,0.5,0.6,0.4,0.3, 0.5,0.8,1.0,0.6,0.8,1.5,11.0,2.0,0.8,0.4, 0.3,0.5,0.4,0.3,0.6,0.4,0.3,0.2,0.5,0.3];
const p27=[0,1.2,0,0,0,0,0.8,1.5,1.2,1.0, 1.6,2.0,2.2,1.0,0.2,0,0,0,0.2,1.0, 2.0,3.2,4.5,4.0,5.0,4.5,3.0,2.0,1.2,0.8, 0.6,0.4,0.5,0.8,0.4,0.6,0.3,0.5,0.4,3.4, 0.8,0.5,0.6,0.4,0.5,0.8,0.4,0.3,0.5,0.4, 0.3,0.5,0.4,0.6,0.3,0.4,0.5,0.3,6.0,0.5];
const p28=[0,0.6,0,0,0,0,0.4,1.0,0.8,0.6, 1.0,1.2,1.5,0.6,0,0,0,0,0,0.5, 1.5,2.5,4.0,3.5,5.0,3.5,2.0,1.5,1.0,0.6, 0.4,0.3,0.5,0.2,0.4,0.3,0.2,0.5,0.3,0.4, 0.6,0.4,10.0,1.5,0.5,0.3,0.4,0.2,0.3,0.2, 0.4,0.2,0.3,0.5,0.2,0.4,0.3,0.2,0.5,0.3];
const p29=[0,2.2,0,0,0,0.3,1.0,2.5,2.0,1.5, 2.0,2.8,2.5,1.4,0.2,0,0,0,0.3,1.4, 3.0,5.0,7.0,6.0,5.0,6.5,4.0,3.0,2.0,1.5, 11.0,2.0,1.0,0.8,0.6,0.5,0.8,0.6,0.4,0.5, 0.6,0.8,0.5,0.4,0.6,0.3,0.5,0.4,0.3,0.6, 0.4,0.3,0.5,0.4,0.3,0.6,0.4,0.3,0.4,0.5];
const p30=[0,1.6,0,0,0,0,0.8,2.0,1.8,1.2, 1.8,2.4,2.2,1.2,0.2,0,0,0,0.2,1.0, 2.2,3.8,5.5,4.5,6.0,5.0,3.0,2.0,1.2,0.8, 0.6,0.4,0.8,0.5,0.6,11.8,2.0,0.8,0.5,0.4, 0.6,0.5,0.8,0.4,0.3,0.5,0.6,0.4,0.3,0.5, 0.4,0.3,0.5,0.6,0.4,0.3,0.2,0.4,0.3,0.5];
const p31=[0,2.0,0,0,0,0.4,1.6,3.0,2.5,2.2, 3.0,3.5,3.0,1.8,0.4,0,0,0,0.4,1.0, 2.0,3.0,4.0,5.0,3.5,4.5,3.0,2.5,2.0,1.8, 2.0,1.5,1.2,1.8,1.0,0.8,1.2,1.5,1.0,0.8, 1.5,1.0,1.8,1.2,0.8,0.6,0.5,0.8,0.6,0.4, 0.6,0.8,0.5,0.4,0.6,0.5,0.8,0.6,0.4,0.5];
const p32=[0,1.0,0,0,0,0,0.6,1.5,1.2,1.0, 1.5,1.8,1.6,0.8,0,0,0,0,0.2,0.8, 1.8,3.0,4.5,3.8,4.5,4.0,2.5,1.5,0.8,0.5, 0.4,0.3,0.5,0.3,2.8,0.4,0.3,0.2,0.5,0.3, 0.4,0.3,0.2,0.4,0.5,0.3,0.2,0.4,0.3,0.5, 0.3,7.0,0.4,0.3,0.2,0.4,0.6,0.3,0.2,0.4];
const p33=[0,1.4,0,0,0,0.2,1.0,2.2,1.8,1.4, 2.2,2.8,2.5,1.5,0.2,0,0,0,0.2,1.2, 2.8,4.5,6.0,8.0,7.0,5.5,3.5,2.5,1.5,1.0, 0.8,0.5,0.6,0.4,0.3,0.5,0.8,0.6,0.4,0.3, 0.4,0.6,0.3,0.5,0.2,0.4,0.5,5.0,0.2,0.4, 0.3,0.2,0.4,0.3,0.5,0.2,0.3,0.4,0.2,0.3];
const p34=[0,2.4,0,0,0,0.3,1.4,2.8,2.2,1.8, 2.5,3.2,3.0,1.6,0.3,0,0,0,0.3,1.0, 2.2,3.5,5.0,4.5,4.0,5.0,3.5,2.8,2.2,1.8, 1.5,1.2,1.0,1.4,0.8,1.0,1.2,0.8,0.6,1.0, 1.2,0.8,1.5,1.0,0.8,0.6,0.8,1.0,0.6,0.5, 0.8,0.6,0.5,0.8,0.6,0.4,0.6,0.5,0.8,0.6];
const p35=[0,0.8,0,0,0,0,0.4,1.0,0.8,0.6, 1.0,1.4,1.2,0.6,0,0,0,0,0.2,1.2, 2.8,5.5,9.0,7.5,6.0,4.0,2.0,1.0,0.5,0.3, 0.2,0.3,0.2,0.4,0.2,0.3,0.2,0.4,0.3,0.2, 0.4,0.3,0.2,0.3,0.4,0.2,0.3,0.2,0.4,0.3, 0.2,0.3,0.4,0.2,0.3,0.2,0.4,0.3,0.2,0.3];
const p36=[0,1.6,0,0,0,0.2,1.0,2.4,2.0,1.5, 2.0,2.6,2.4,1.4,0.2,0,0,0,0.3,1.2, 2.6,4.4,6.5,5.5,9.0,6.0,3.5,2.5,1.5,1.0, 0.8,0.6,0.5,0.8,0.4,0.6,0.5,4.0,0.6,0.5, 0.6,0.8,0.5,0.4,0.6,0.4,0.5,0.6,0.4,0.5, 0.4,0.5,0.6,0.4,0.3,0.5,0.4,0.6,0.4,0.3];
const p37=[0,2.0,0,0,0.3,0.5,1.5,3.0,2.5,2.0, 2.6,3.4,3.2,1.8,0.3,0,0,0,0.3,1.2, 2.5,4.0,6.0,9.0,12.0,8.0,4.0,3.0,2.0,1.2, 0.8,0.6,0.8,0.5,0.6,0.8,0.5,0.4,0.6,0.8, 0.6,0.5,0.8,0.4,0.6,0.5,0.8,0.6,0.5,4.0, 6.0,3.0,1.0,0.6,0.4,0.5,0.6,0.4,0.5,0.6];
const p38=[0,1.0,0,0,0,0,0.6,1.4,1.2,1.0, 1.4,1.8,1.6,0.8,0,0,0,0,0.2,1.0, 2.0,3.5,5.0,6.0,5.0,4.0,2.5,1.5,1.0,0.6, 0.4,0.5,0.3,0.6,0.4,0.3,0.5,0.4,0.3,0.4, 0.5,0.3,0.4,0.6,0.5,0.3,0.4,0.5,0.3,0.6, 0.8,1.2,0.6,0.5,0.8,14.9,3.0,0.8,0.5,0.4];
const p39=[0,1.3,0,0,0,0,0.8,2.2,1.8,1.2, 1.8,2.4,2.0,1.2,0.2,0,0,0,0.2,1.0, 2.2,4.0,6.0,8.0,10.0,15.0,6.0,2.5,1.2,0.6, 0.4,3.0,0.5,0.4,0.3,0.5,0.4,0.3,0.5,0.4, 0.5,0.4,0.3,0.5,0.4,0.6,0.4,0.3,0.5,0.4, 0.3,0.5,0.4,0.3,0.5,0.4,0.3,0.5,0.4,0.3];
const p40=[0,1.1,0,0,0,0,0.5,1.4,1.2,0.8, 1.2,1.6,1.6,0.8,0.2,0,0,0,0.2,0.8, 1.8,3.2,5.0,6.5,8.0,10.0,5.0,2.0,1.0,0.5, 0.3,0.4,0.2,0.3,0.4,0.2,0.3,0.4,0.2,0.3, 0.4,0.2,0.3,3.5,0.2,0.3,0.4,0.2,0.3,0.4, 0.2,0.3,0.4,0.2,0.3,0.4,0.2,0.3,0.4,0.2];
const p41=[0,1.4,0,0,0.2,0.4,1.2,2.5,2.2,1.6, 2.4,3.0,2.6,1.6,0.3,0,0,0,0.3,1.4, 3.0,5.0,7.5,6.0,5.5,7.0,4.0,3.0,2.0,1.2, 1.0,0.8,1.2,0.6,0.8,1.0,0.6,0.8,1.2,0.8, 1.0,0.8,1.2,0.6,0.5,0.8,0.6,0.5,0.8,0.6, 0.5,0.8,0.6,0.5,0.8,1.5,4.0,10.0,2.0,0.8];
const p42=[0,0.7,0,0,0,0,0.3,0.8,0.6,0.5, 0.8,1.2,1.4,0.6,0,0,0,0,0.3,1.6, 4.0,8.0,16.0,12.0,5.0,3.0,1.5,0.8,0.4,0.2, 0.2,0.3,0.2,0,0.3,0.2,0.4,0.2,0.3,0.2, 0.3,0.2,0.4,0.2,0.3,0.2,0.4,0.3,0.2,0.3, 0.2,0.3,0.2,0.4,0.2,0.3,0.2,0.3,0.4,0.2];
const p43=[0,2.6,0,0,0.3,0.6,1.8,3.4,2.6,2.4, 3.2,4.2,3.6,2.0,0.4,0,0,0,0.4,1.0, 2.0,3.0,4.5,5.5,4.0,6.0,4.5,3.5,2.8,2.2, 1.8,1.5,2.0,1.2,1.6,1.0,1.4,1.8,1.2,1.0, 2.0,1.5,2.2,1.8,1.2,0.8,1.0,0.8,0.6,0.5, 0.8,0.6,1.0,0.8,0.5,0.6,0.8,1.0,0.6,0.5];
const p44=[0,1.2,0,0,0,0,0.6,1.6,1.4,1.0, 1.6,2.2,1.8,1.0,0.2,0,0,0,0.2,1.0, 2.4,4.0,7.0,9.0,14.0,8.0,3.0,1.5,1.0,0.6, 0.5,0.3,0.6,0.4,0.3,0.5,0.4,0.3,0.5,0.4, 0.6,0.4,0.8,0.5,0.4,0.6,0.4,0.3,0.5,0.4, 0.3,0.5,0.4,0.3,0.6,0.4,0.3,0.5,0.4,0.3];
const p45=[0,1.8,0,0,0,0.3,1.0,2.2,2.0,1.6, 2.4,3.0,2.6,1.4,0.3,0,0,0,0.3,1.0, 2.0,3.5,5.0,6.0,4.5,5.5,4.0,3.0,2.5,2.0, 1.6,1.2,1.5,1.0,1.4,1.2,0.8,1.0,1.2,1.5, 2.2,1.4,8.0,2.0,1.2,0.8,1.0,0.6,0.8,0.5, 0.6,0.8,0.5,0.6,0.8,0.5,0.6,0.8,0.5,0.6];
const p46=[0,2.0,0,0,0,0.2,1.2,2.6,2.2,1.8, 2.4,3.0,2.6,1.6,0.3,0,0,0,0.2,1.0, 2.2,3.8,5.5,5.0,5.5,5.0,3.5,2.5,1.8,1.2, 1.0,0.8,1.0,0.6,0.8,1.0,0.6,0.8,1.0,0.8, 1.0,10.0,1.5,0.8,0.6,0.8,0.6,0.5,0.8,0.6, 0.5,0.6,0.8,0.5,0.4,0.6,0.5,0.4,0.6,0.5];
const p47=[0,1.4,0,0,0,0,0.8,1.8,1.4,1.2, 1.8,2.2,2.0,1.0,0.2,0,0,0,0.2,0.8, 1.8,3.0,4.2,4.5,4.0,4.5,3.0,2.2,1.5,1.0, 0.8,0.5,0.8,0.6,0.5,0.8,0.6,0.5,0.8,0.6, 0.8,0.6,0.8,0.5,0.6,0.8,0.5,0.6,0.8,0.5, 0.6,0.5,0.8,0.6,0.5,0.8,0.6,0.5,0.6,0.8];
const p48=[0,1.8,0,0,0,0.2,1.0,2.2,1.8,1.4, 2.0,2.6,2.2,1.2,0.2,0,0,0,0.3,1.2, 2.5,4.2,6.0,5.5,6.5,5.0,3.5,2.5,1.5,1.0, 0.8,0.6,11.8,2.0,0.8,0.6,0.5,0.8,0.6,0.5, 0.6,0.8,0.5,0.6,0.8,0.5,0.6,0.4,0.5,0.6, 0.5,0.4,0.6,0.5,0.4,0.6,0.5,0.4,0.5,0.6];
const p49=[0,5.2,0,0,0,0.3,1.4,2.8,2.4,1.8, 2.6,3.2,2.8,1.6,0.3,0,0,0,0.3,1.2, 2.6,4.4,6.0,5.5,6.0,5.0,3.5,2.5,1.8,1.2, 1.0,0.8,1.0,0.8,0.6,0.8,1.0,0.8,0.6,0.8, 1.0,0.8,1.0,0.6,0.8,1.0,0.8,0.6,0.8,1.0, 0.8,0.6,0.8,1.0,0.8,2.0,5.0,11.4,3.0,1.0];
const p50=[0,2.4,0,0,0,0.2,1.2,2.6,2.2,1.6, 2.2,2.8,2.4,1.4,0.2,0,0,0,0.2,1.0, 2.0,3.5,5.0,4.5,5.0,4.5,3.0,2.0,1.2,0.8, 0.6,0.8,0.5,0.6,0.8,0.5,0.6,0.8,0.5,0.6, 0.8,0.5,0.6,0.8,0.5,0.6,0.8,0.5,0.6,0.8, 0.6,0.5,0.8,0.6,0.5,0.8,1.5,3.0,4.5,6.0];

const memberT = [t1,t2,t3,t4,t5,t6,t7,t8,t9,t10,t11,t12,t13,t14,t15,t16,t17,t18,t19,t20,t21,t22,t23,t24,t25,t26,t27,t28,t29,t30,t31,t32,t33,t34,t35,t36,t37,t38,t39,t40,t41,t42,t43,t44,t45,t46,t47,t48,t49,t50];
const memberP = [p1,p2,p3,p4,p5,p6,p7,p8,p9,p10,p11,p12,p13,p14,p15,p16,p17,p18,p19,p20,p21,p22,p23,p24,p25,p26,p27,p28,p29,p30,p31,p32,p33,p34,p35,p36,p37,p38,p39,p40,p41,p42,p43,p44,p45,p46,p47,p48,p49,p50];
const palette = ["#2a3cb4","#2e55b5","#3c6ea8","#3a8aaa","#2aa0b0","#1fa58a","#2e8f5c","#2f9a4e","#2fae36","#3cc030","#b5b544","#c4b040","#d29e25","#c8942e","#b07c48","#a2683a","#c06428","#b04a28","#8c3424","#7c2424"];

// ---------- DRAWING ----------
const W=850,H=620, L=164, R=810, T=30, B=560;
const svg=d3.select("#c");
svg.append("rect").attr("width",W).attr("height",H).attr("fill","#000");
const times = memberT[0].map((_,i)=>new Date(firstTime + i*stepHours*3600e3));
const x=d3.scaleUtc().domain([Date.UTC(2025,10,14,0),Date.UTC(2025,10,29,12)]).range([L,R]);
const yT=d3.scaleLinear().domain([-20,25]).range([B,T]);
const yP=d3.scaleLinear().domain([0,40]).range([B,T]);
const days=d3.utcDay.range(Date.UTC(2025,10,15),Date.UTC(2025,10,29,12));

const grid=svg.append("g").attr("stroke","#4a4a4a").attr("stroke-width",1).attr("stroke-dasharray","4,4");
days.forEach(d=>grid.append("line").attr("x1",Math.round(x(d))+0.5).attr("x2",Math.round(x(d))+0.5).attr("y1",T).attr("y2",B));
tempTicks.filter(v=>v>-20&&v<25).forEach(v=>grid.append("line").attr("x1",L).attr("x2",R).attr("y1",Math.round(yT(v))+0.5).attr("y2",Math.round(yT(v))+0.5));

svg.append("clipPath").attr("id","pc").append("rect").attr("x",L).attr("y",T).attr("width",R-L).attr("height",B-T);
const plot=svg.append("g").attr("clip-path","url(#pc)");
const lineT=d3.line().x((d,i)=>x(times[i])).y(d=>yT(d));
const lineP=d3.line().x((d,i)=>x(times[i])).y(d=>yP(d));
const thick=(s,g,c,w)=>plot.append("path").attr("d",g(s)).attr("fill","none").attr("stroke",c).attr("stroke-width",w).attr("stroke-linejoin","round");

// control first (largely hidden under the members, as in the original)
thick(controlT,lineT,"#1414ff",3);
memberT.forEach((s,k)=>plot.append("path").attr("d",lineT(s)).attr("fill","none").attr("stroke",palette[k%20]).attr("stroke-width",1));
thick(controlP,lineP,"#1414ff",3);
memberP.forEach((s,k)=>plot.append("path").attr("d",lineP(s)).attr("fill","none").attr("stroke",palette[k%20]).attr("stroke-width",1));
thick(operT,lineT,"#1ecf1e",3.2);
thick(operP,lineP,"#1ecf1e",3.2);
thick(ensMeanT,lineT,"#ffffff",3.2);
thick(ensMeanP,lineP,"#ffffff",3.2);
thick(climT,lineT,"#e04646",3.6);

// frame and ticks
svg.append("rect").attr("x",L+0.5).attr("y",T+0.5).attr("width",R-L-1).attr("height",B-T-1).attr("fill","none").attr("stroke","#fff").attr("stroke-width",1);
days.forEach(d=>svg.append("line").attr("x1",Math.round(x(d))+0.5).attr("x2",Math.round(x(d))+0.5).attr("y1",T).attr("y2",T+5).attr("stroke","#fff"));
d3.range(1,40).forEach(v=>svg.append("line").attr("x1",R-5).attr("x2",R).attr("y1",Math.round(yP(v))+0.5).attr("y2",Math.round(yP(v))+0.5).attr("stroke","#fff"));

const axisFont=g=>{g.select(".domain").remove();g.selectAll("text").attr("fill","#fff").attr("font-size",11).attr("font-family","DejaVu Sans");};
svg.append("g").attr("transform",`translate(${L},0)`).call(d3.axisLeft(yT).tickValues(tempTicks).tickSize(0).tickPadding(9).tickFormat(d3.format("d"))).call(axisFont);
svg.append("g").attr("transform",`translate(${R},0)`).call(d3.axisRight(yP).tickValues(precipTicks).tickSize(0).tickPadding(8).tickFormat(d3.format("d"))).call(axisFont);
const xTickDates=xTickLabels.map((s,i)=>new Date(Date.UTC(2025,10,14+2*i)));
svg.append("g").attr("transform",`translate(0,${B})`).call(d3.axisBottom(x).tickValues(xTickDates).tickSize(0).tickPadding(9).tickFormat((d,i)=>xTickLabels[i])).call(axisFont);

const txt=(s,xx,yy,o={})=>svg.append("text").attr("x",xx).attr("y",yy).attr("fill","#fff").attr("font-family","DejaVu Sans").attr("font-size",o.size||11).attr("font-weight",o.weight||"normal").attr("text-anchor",o.anchor||"start").attr("transform",o.rot?`rotate(-90,${xx},${yy})`:null).style("white-space","pre").text(s);
txt(titleText,435,19,{size:16,weight:"bold",anchor:"middle"});
txt("850 hPa Temp. (°C)",135,295,{size:10,anchor:"middle",rot:true});
txt("Precipitación (mm)",844,295,{size:10,anchor:"middle",rot:true});
txt("Date (UTC)",486,593,{size:10,anchor:"middle"});
txt("ECMWF Ensemble, 43.5N, 5.75W",120,604,{size:16});
txt("Wetterzentrale.de",650,604,{size:16});

// legend
const leg=svg.append("g");
const legItem=(col,yy,color,label,w)=>{
  const x0=col===0?-5:53, x1=col===0?7:64, tx=col===0?8:65;
  leg.append("line").attr("x1",x0).attr("x2",x1).attr("y1",yy).attr("y2",yy).attr("stroke",color).attr("stroke-width",w||1.6);
  if(label!==null) txt(label,tx,yy+4,{size:11});
};
memberT.forEach((s,k)=>legItem(k%2,39+15*Math.floor(k/2),palette[k%20],"P"+(k+1)));
legItem(0,415,"#1414ff","Control",2.2);
legItem(1,415,"#ffffff","Ens. mean",2.2);
legItem(1,443,"#e04646",null,2.2);
txt("1991-2020",65,446,{size:11});
txt("mean",65,459,{size:11});
legItem(0,456,"#1ecf1e","Oper",2.2);
</script>
</body></html>
